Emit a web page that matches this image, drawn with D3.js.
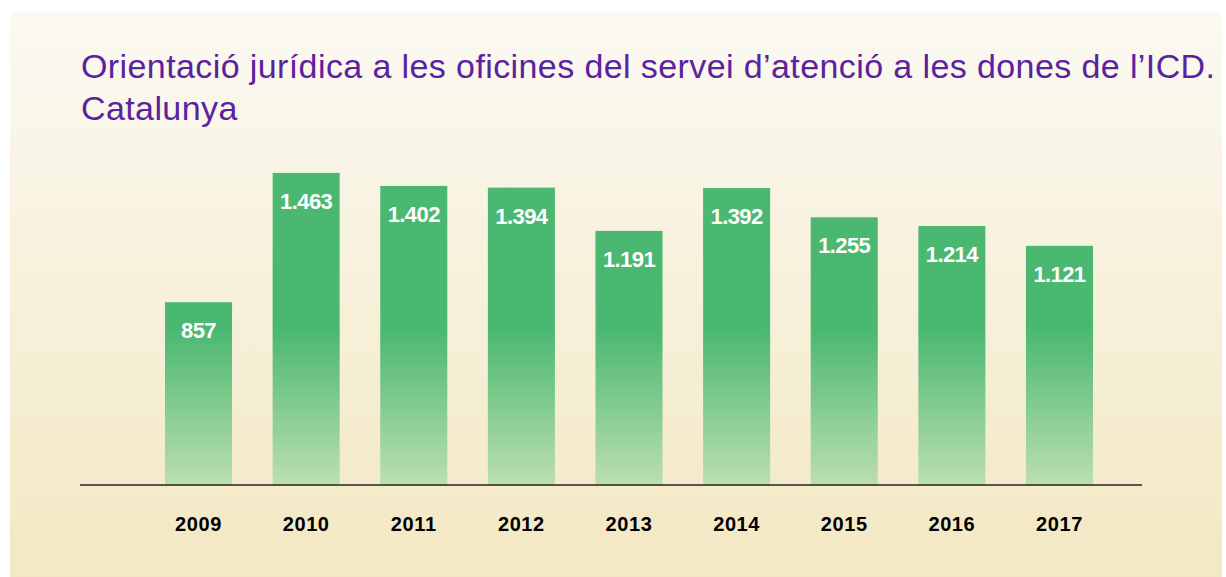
<!DOCTYPE html>
<html>
<head>
<meta charset="utf-8">
<script src="https://cdn.jsdelivr.net/npm/d3@7"></script>
<style>
	html, body { margin: 0; padding: 0; background: #ffffff; }
	svg { display: block; }
</style>
</head>
<body>
<svg id="chart" width="1226" height="577"></svg>
<script>
// data
var years = ['2009', '2010', '2011', '2012', '2013', '2014', '2015', '2016', '2017'];
var consultes = [857, 1463, 1402, 1394, 1191, 1392, 1255, 1214, 1121];
var titleLines = [
	'Orientació jurídica a les oficines del servei d\u2019atenció a les dones de l\u2019ICD.',
	'Catalunya'
];

var svg = d3.select('#chart');
var defs = svg.append('defs');

var bgGrad = defs.append('linearGradient')
	.attr('id', 'bg')
	.attr('x1', 0).attr('y1', 0).attr('x2', 0).attr('y2', 1);
bgGrad.append('stop').attr('offset', '0%').attr('stop-color', '#fbf9f2');
bgGrad.append('stop').attr('offset', '100%').attr('stop-color', '#f3e8c3');

// bars fade in the same band of height, whatever their size
var barGrad = defs.append('linearGradient')
	.attr('id', 'bar')
	.attr('gradientUnits', 'userSpaceOnUse')
	.attr('x1', 0).attr('y1', 330).attr('x2', 0).attr('y2', 485);
barGrad.append('stop').attr('offset', '0%').attr('stop-color', '#4bb871');
barGrad.append('stop').attr('offset', '100%').attr('stop-color', '#bcdfae');

svg.append('rect')
	.attr('x', 10).attr('y', 12)
	.attr('width', 1212).attr('height', 565)
	.attr('fill', 'url(#bg)');

//title
var title = svg.append('g').attr('class', 'title');
title.selectAll('text')
	.data(titleLines)
	.enter()
	.append('text')
	.attr('x', 81)
	.attr('y', function(d, i){return 78 + i * 42;})
	.attr('font-family', '"Liberation Sans", Arial, sans-serif')
	.attr('font-size', 34)
	.attr('fill', '#5b22a0')
	.text(function(d){return d;});

// stretch the first line to the width it has in the picture
var first = title.select('text').node();
var natural = first.getComputedTextLength();
var spacing = (1134 - natural) / (titleLines[0].length - 1);
title.selectAll('text').attr('letter-spacing', spacing);

var x = d3.scaleBand()
	.domain(years)
	.range([165, 1093])
	.paddingInner(0.377)
	.paddingOuter(0);

var y = d3.scaleLinear()
	.domain([0, 1500])
	.range([485, 165]);

var bars = svg.append('g').attr('class', 'bars')
	.selectAll('g')
	.data(years)
	.enter()
	.append('g');

bars.append('rect')
	.attr('x', function(d){return x(d);})
	.attr('y', function(d, i){return y(consultes[i]);})
	.attr('width', x.bandwidth())
	.attr('height', function(d, i){return y(0) - y(consultes[i]);})
	.attr('fill', 'url(#bar)');

bars.append('text')
	.attr('x', function(d){return x(d) + x.bandwidth() / 2;})
	.attr('y', function(d, i){return y(consultes[i]) + 36;})
	.attr('text-anchor', 'middle')
	.attr('font-family', '"Liberation Sans", Arial, sans-serif')
	.attr('font-weight', 'bold')
	.attr('font-size', 22)
	.attr('letter-spacing', -0.6)
	.attr('fill', '#ffffff')
	.text(function(d, i){return d3.format(',')(consultes[i]).replace(/,/g, '.');});

// axis with the year labels, no ticks
var axis = svg.append('g')
	.attr('transform', 'translate(0,' + y(0) + ')')
	.call(d3.axisBottom(x).tickSize(0).tickPadding(0));

axis.select('.domain').remove();
axis.append('line')
	.attr('x1', 80).attr('x2', 1142)
	.attr('y1', 0).attr('y2', 0)
	.attr('stroke', '#222222')
	.attr('stroke-width', 1.6);

axis.selectAll('.tick text')
	.attr('y', 46)
	.attr('dy', 0)
	.attr('font-family', '"Liberation Sans", Arial, sans-serif')
	.attr('font-weight', 'bold')
	.attr('font-size', 20)
	.attr('letter-spacing', 0.6)
	.attr('fill', '#000000');
</script>
</body>
</html>
